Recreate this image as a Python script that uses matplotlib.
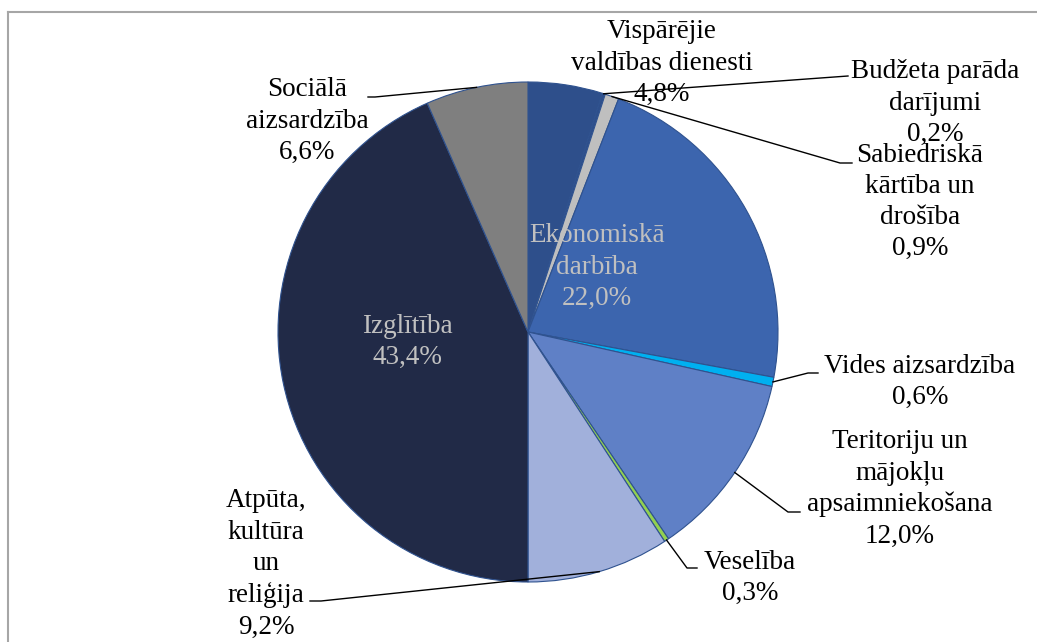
import numpy as np
import matplotlib
matplotlib.use("Agg")
import matplotlib.pyplot as plt
from matplotlib.lines import Line2D

categories = ["Vispārējie\nvaldības dienesti", "Budžeta parāda\ndarījumi", "Sabiedriskā\nkārtība un\ndrošība",
              "Ekonomiskā\ndarbība", "Vides aizsardzība", "Teritoriju un\nmājokļu\napsaimniekošana",
              "Veselība", "Atpūta,\nkultūra\nun\nreliģija", "Izglītība", "Sociālā\naizsardzība"]
values = [4.8, 0.2, 0.9, 22.0, 0.6, 12.0, 0.3, 9.2, 43.4, 6.6]
colors = ["#2E4F8B", "#2E4F8B", "#BFBFBF", "#3C65AE", "#00B0F0", "#5F80C6",
          "#92D050", "#A1B0DB", "#212A47", "#7F7F7F"]

W, H = 1037, 642
fig = plt.figure(figsize=(W / 100, H / 100), dpi=100)
ax = fig.add_axes([0, 0, 1, 1])
plt.rcParams['font.family'] = ['Liberation Serif', 'DejaVu Serif']

cx, cy, R = 528, H - 332, 250
wedges, _ = ax.pie(values, colors=colors, startangle=90, counterclock=False,
                   center=(cx, cy), radius=R, frame=True,
                   wedgeprops=dict(edgecolor="#2F528F", linewidth=0.8))
ax.set_xlim(0, W)
ax.set_ylim(0, H)
ax.set_aspect('equal')
ax.axis('off')

def fmt(v):
    return f"{v:.1f}".replace('.', ',') + "%"

def anchor(i, r=R):
    w = wedges[i]
    a = np.deg2rad((w.theta1 + w.theta2) / 2)
    return cx + r * np.cos(a), cy + r * np.sin(a)

fs = 19.5
ls = 1.33
def P(x, y):
    return x, H - y

# inside labels
ax.text(*P(597, 267), categories[3] + "\n" + fmt(values[3]), ha='center', va='center',
        color="#C0C0C0", fontsize=fs, linespacing=ls)
ax.text(*P(407, 342), categories[8] + "\n" + fmt(values[8]), ha='center', va='center',
        color="#C0C0C0", fontsize=fs, linespacing=ls)

# outside labels: (index, text center, leader points)
outside = [
    (0, (662, 63), None),
    (1, (935, 103), [(848, 76)]),
    (2, (920, 202), [(840, 163), (852, 163)]),
    (4, (920, 382), [(808, 373), (818, 373)]),
    (5, (900, 489), [(788, 512), (800, 512)]),
    (6, (750, 578), [(687, 568), (697, 568)]),
    (7, (266, 564), [(321, 601), (310, 601)]),
    (9, (307, 121), [(375, 97), (368, 97)]),
]
for i, (tx, ty), pts in outside:
    ax.text(*P(tx, ty), categories[i] + "\n" + fmt(values[i]), ha='center', va='center',
            color="black", fontsize=fs, linespacing=ls)
    if pts:
        ax0, ay0 = anchor(i)
        xs = [ax0] + [p[0] for p in pts]
        ys = [ay0] + [H - p[1] for p in pts]
        ax.plot(xs, ys, color="black", lw=1.0)

# frame border (left and top)
fig.add_artist(Line2D([8 / W, 8 / W], [0, 1 - 12 / H], transform=fig.transFigure, color="#A6A6A6", lw=1.5))
fig.add_artist(Line2D([8 / W, 1], [1 - 12 / H, 1 - 12 / H], transform=fig.transFigure, color="#A6A6A6", lw=1.5))

fig.savefig("out.png", dpi=100, facecolor="white")
